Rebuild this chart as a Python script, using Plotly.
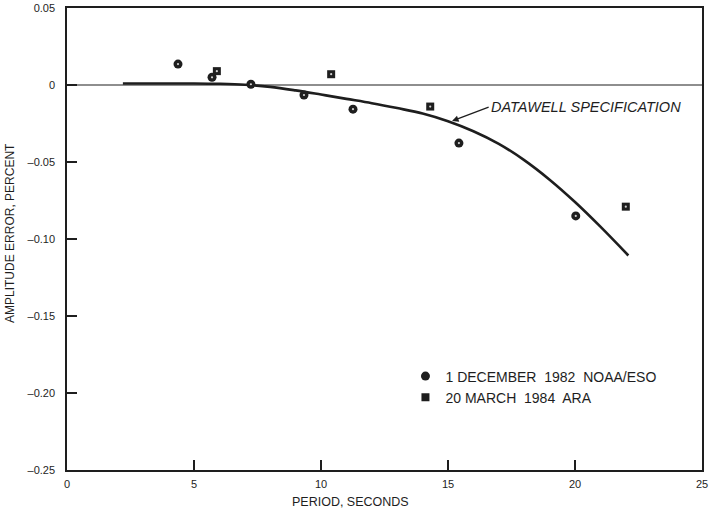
import plotly.graph_objects as go

# Datawell specification curve (period s, amplitude error %)
spec_period = [2.2, 4, 5, 6, 7, 8, 9, 10, 11, 12, 13, 14, 15, 16, 17, 18, 19, 20, 21, 22.1]
spec_error = [0.001, 0.001, 0.001, 0.0008, 0.0002, -0.0012, -0.0035, -0.0062, -0.0090, -0.0118,
              -0.0150, -0.0185, -0.0235, -0.0300, -0.0382, -0.0488, -0.0615, -0.0760, -0.0920, -0.1107]

# 1 December 1982 NOAA/ESO
noaa_period = [4.37, 5.71, 7.24, 9.33, 11.26, 15.43, 20.03]
noaa_error = [0.0136, 0.005, 0.0005, -0.0065, -0.0157, -0.0377, -0.0850]

# 20 March 1984 ARA
ara_period = [5.9, 10.4, 14.3, 22.0]
ara_error = [0.009, 0.007, -0.014, -0.079]

font = "Liberation Sans, Arial, sans-serif"
ink = "#1e1e1e"

fig = go.Figure()

fig.add_trace(go.Scatter(
    x=[0, 25], y=[0, 0], mode="lines",
    line=dict(color=ink, width=1.1), showlegend=False, hoverinfo="skip"))

fig.add_trace(go.Scatter(
    x=spec_period, y=spec_error, mode="lines", line_shape="spline",
    line=dict(color=ink, width=2.6, smoothing=1.0), showlegend=False))

fig.add_trace(go.Scatter(
    x=noaa_period, y=noaa_error, mode="markers", name="1 DECEMBER  1982  NOAA/ESO",
    marker=dict(symbol="circle", size=9, color=ink)))

fig.add_trace(go.Scatter(
    x=ara_period, y=ara_error, mode="markers", name="20 MARCH  1984  ARA",
    marker=dict(symbol="square", size=8, color=ink)))

# small light centres on the markers
fig.add_trace(go.Scatter(
    x=noaa_period + ara_period, y=noaa_error + ara_error, mode="markers",
    marker=dict(symbol="circle", size=2.2, color="#cfcfcf"),
    showlegend=False, hoverinfo="skip"))

fig.add_annotation(
    x=15.16, y=-0.0234, ax=16.6, ay=-0.0143, axref="x", ayref="y",
    text="<i>DATAWELL SPECIFICATION</i>", showarrow=True,
    arrowhead=2, arrowsize=1, arrowwidth=1.3, arrowcolor=ink,
    xanchor="left", yanchor="middle",
    font=dict(family=font, size=14.5, color=ink))

fig.add_annotation(
    xref="paper", yref="paper", x=0.447, y=-0.069, showarrow=False,
    text="PERIOD, SECONDS", xanchor="center", yanchor="middle",
    font=dict(family=font, size=12.5, color=ink))

fig.add_annotation(
    xref="paper", yref="paper", x=-0.0898, y=0.513, showarrow=False,
    text="AMPLITUDE ERROR, PERCENT", textangle=-90, xanchor="center", yanchor="middle",
    font=dict(family=font, size=12, color=ink))

fig.update_xaxes(
    range=[0, 25], tickvals=[0, 5, 10, 15, 20, 25],
    ticks="inside", ticklen=10, tickwidth=1.5, tickcolor=ink,
    showline=True, linecolor=ink, linewidth=1.5, mirror=True,
    showgrid=False, zeroline=False, automargin=False, ticklabelstandoff=3,
    tickfont=dict(family=font, size=11, color=ink))

fig.update_yaxes(
    range=[-0.25, 0.05], tickvals=[0.05, 0, -0.05, -0.10, -0.15, -0.20, -0.25],
    ticktext=["0.05", "0", "–0.05", "–0.10", "–0.15", "–0.20", "–0.25"],
    ticks="inside", ticklen=10, tickwidth=1.5, tickcolor=ink,
    showline=True, linecolor=ink, linewidth=1.5, mirror=True,
    showgrid=False, zeroline=False, automargin=False, ticklabelstandoff=8,
    tickfont=dict(family=font, size=11, color=ink))

fig.update_layout(
    width=712, height=513,
    margin=dict(l=67, r=10, t=8, b=43),
    paper_bgcolor="white", plot_bgcolor="white",
    legend=dict(x=0.533, y=0.237, xanchor="left", yanchor="top",
                bgcolor="rgba(0,0,0,0)", tracegroupgap=2,
                font=dict(family=font, size=14, color=ink)),
)

fig.write_html("out.html", config={"displayModeBar": False},
               post_script="document.body.style.margin='0';")
